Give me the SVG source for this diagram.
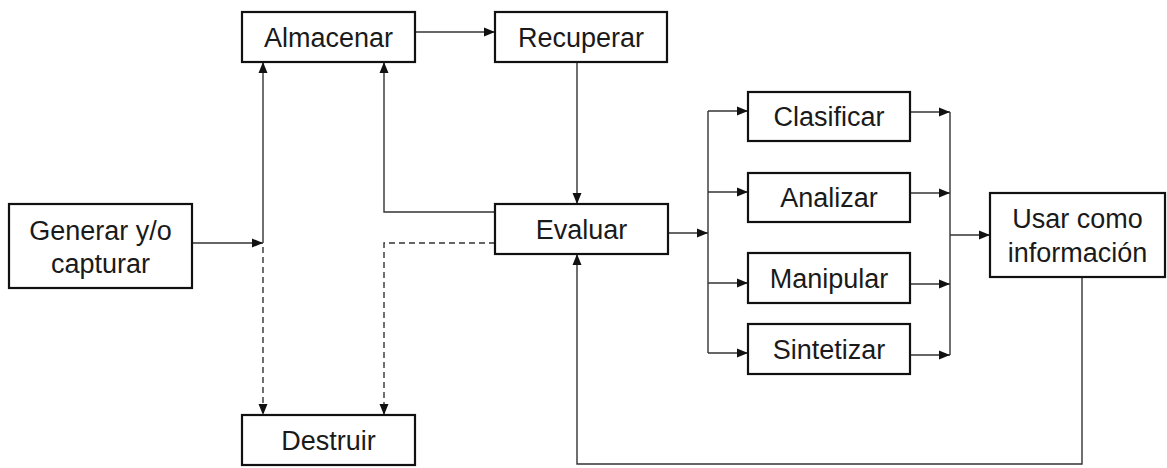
<svg xmlns="http://www.w3.org/2000/svg" width="1167" height="468" viewBox="0 0 1167 468">
  <style>
    .box { fill: #ffffff; stroke: #111111; stroke-width: 2.2; }
    .lbl { font-family: "Liberation Sans", Arial, sans-serif; font-size: 27px; fill: #1a1a1a; text-anchor: middle; }
    .ln { fill: none; stroke: #333333; stroke-width: 1.4; }
    .dash { stroke-dasharray: 6 4; }
    .arr { marker-end: url(#ah); }
  </style>
  <defs>
    <marker id="ah" markerUnits="userSpaceOnUse" markerWidth="12" markerHeight="10" refX="11" refY="5" orient="auto">
      <path d="M0,0.5 L11,5 L0,9.5 Z" fill="#111111"/>
    </marker>
  </defs>
  <rect width="1167" height="468" fill="#ffffff"/>

  <g id="connectors">
    <line class="ln arr" x1="415" y1="32" x2="495" y2="32"/>
    <line class="ln arr" x1="577" y1="62" x2="577" y2="204"/>
    <line class="ln arr" x1="192" y1="243" x2="263" y2="243"/>
    <line class="ln arr" x1="263" y1="243" x2="263" y2="62"/>
    <line class="ln dash arr" x1="263" y1="247" x2="263" y2="415"/>
    <path class="ln arr" d="M495,212 H384 V62"/>
    <path class="ln dash arr" d="M495,243 H384 V415"/>
    <line class="ln arr" x1="668" y1="233" x2="708" y2="233"/>
    <line class="ln" x1="708" y1="111" x2="708" y2="353"/>
    <line class="ln arr" x1="708" y1="111" x2="748" y2="111"/>
    <line class="ln arr" x1="708" y1="192" x2="748" y2="192"/>
    <line class="ln arr" x1="708" y1="283" x2="748" y2="283"/>
    <line class="ln arr" x1="708" y1="353" x2="748" y2="353"/>
    <line class="ln arr" x1="910" y1="112" x2="950" y2="112"/>
    <line class="ln arr" x1="910" y1="193" x2="950" y2="193"/>
    <line class="ln arr" x1="910" y1="284" x2="950" y2="284"/>
    <line class="ln arr" x1="910" y1="355" x2="950" y2="355"/>
    <line class="ln" x1="950" y1="112" x2="950" y2="355"/>
    <line class="ln arr" x1="950" y1="235" x2="990" y2="235"/>
    <path class="ln arr" d="M1082,277 V464 H577 V254"/>
  </g>

  <g id="almacenar">
    <rect class="box" x="242" y="12" width="173" height="50"/>
    <text class="lbl" x="328.5" y="47">Almacenar</text>
  </g>
  <g id="recuperar">
    <rect class="box" x="495" y="12" width="172" height="50"/>
    <text class="lbl" x="581" y="47">Recuperar</text>
  </g>
  <g id="generar">
    <rect class="box" x="9" y="204" width="183" height="84"/>
    <text class="lbl" x="100.5" y="240">Generar y/o</text>
    <text class="lbl" x="100.5" y="273">capturar</text>
  </g>
  <g id="evaluar">
    <rect class="box" x="495" y="204" width="173" height="50"/>
    <text class="lbl" x="581.5" y="239">Evaluar</text>
  </g>
  <g id="destruir">
    <rect class="box" x="242" y="415" width="173" height="50"/>
    <text class="lbl" x="328.5" y="450">Destruir</text>
  </g>
  <g id="clasificar">
    <rect class="box" x="748" y="92" width="162" height="49"/>
    <text class="lbl" x="829" y="126">Clasificar</text>
  </g>
  <g id="analizar">
    <rect class="box" x="748" y="173" width="162" height="49"/>
    <text class="lbl" x="829" y="207">Analizar</text>
  </g>
  <g id="manipular">
    <rect class="box" x="748" y="253" width="162" height="50"/>
    <text class="lbl" x="829" y="288">Manipular</text>
  </g>
  <g id="sintetizar">
    <rect class="box" x="748" y="324" width="162" height="50"/>
    <text class="lbl" x="829" y="359">Sintetizar</text>
  </g>
  <g id="usar">
    <rect class="box" x="990" y="193" width="175" height="84"/>
    <text class="lbl" x="1077.5" y="228">Usar como</text>
    <text class="lbl" x="1077.5" y="262">información</text>
  </g>
</svg>
